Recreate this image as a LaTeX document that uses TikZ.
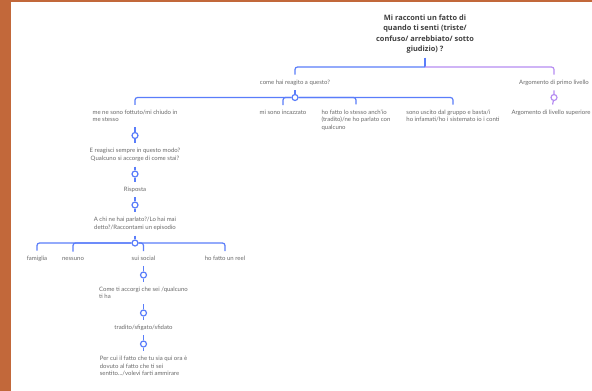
\documentclass[tikz,border=0pt]{standalone}
\usepackage{fontspec}
\setmainfont{Lato}
\newfontfamily\titleFont{Open Sans}
\definecolor{bgOrange}{HTML}{C2683A}
\definecolor{linkBlue}{HTML}{5A7DFA}
\definecolor{linkPurple}{HTML}{B68CF2}
\definecolor{textGray}{HTML}{6A6A6A}
\definecolor{titleGray}{HTML}{404040}
\begin{document}
\begin{tikzpicture}[x=1pt, y=-1pt, titleStyle/.style={font=\titleFont\fontsize{7.4}{10.4}\selectfont\bfseries, text=titleGray, align=center, inner xsep=0pt, inner ysep=4pt}, textStyle/.style={font=\fontsize{6}{7.5}\selectfont, text=textGray, inner xsep=0pt, inner ysep=5pt}, dotStyle/.style={circle, draw=linkBlue, fill=white, line width=1.2pt, minimum size=6pt, inner sep=0pt}, purpleDotStyle/.style={dotStyle, draw=linkPurple}, linkStyle/.style={draw=linkBlue, line width=1.2pt, rounded corners=2.5pt}, purpleLinkStyle/.style={linkStyle, draw=linkPurple}]
                    \fill[bgOrange] (0, 0) rectangle (592, 391);
                    \fill[white] (11, 2) rectangle (592, 391);
                    \useasboundingbox (0, 0) rectangle (592, 391);

                    \node[titleStyle] (root) at (425, 34) {Mi racconti un fatto di\\quando ti senti (triste/\\confuso/ arrebbiato/ sotto\\giudizio) ?};
                    \coordinate (rootFork) at (425, 67);

                    \node[textStyle] (reagito) at (295, 82.5) {come hai reagito a questo?};
                    \node[dotStyle] (reagito_J) at (295, 97.5) {};
                    \node[textStyle] (primo) at (554, 82.5) {Argomento di primo livello};
                    \node[purpleDotStyle] (primo_J) at (554, 97.5) {};
                    \node[textStyle] (superiore) at (551, 112.5) {Argomento di livello superiore};

                    \node[textStyle, align=left] (fottuto) at (135, 116) {me ne sono fottuto/mi chiudo in\\me stesso};
                    \node[textStyle] (incazzato) at (283, 112.5) {mi sono incazzato};
                    \node[textStyle, align=left] (stesso) at (356, 120) {ho fatto lo stesso anch'io\\(tradito)/ne ho parlato con\\qualcuno};
                    \node[textStyle, align=left] (uscito) at (453, 116) {sono uscito dal gruppo e basta/i\\ho infamati/ho i sistemato io i conti};

                    \node[dotStyle] (fottuto_J) at (135, 135.5) {};
                    \node[textStyle, align=center] (reagisci) at (135, 155) {E reagisci sempre in questo modo?\\Qualcuno si accorge di come stai?};
                    \node[dotStyle] (reagisci_J) at (135, 174) {};
                    \node[textStyle] (risposta) at (135, 189.5) {Risposta};
                    \node[dotStyle] (risposta_J) at (135, 205) {};
                    \node[textStyle, align=center] (parlato) at (135, 224) {A chi ne hai parlato?/Lo hai mai\\detto?/Raccontami un episodio};
                    \node[dotStyle] (parlato_J) at (135, 243) {};

                    \node[textStyle] (famiglia) at (37, 258.5) {famiglia};
                    \node[textStyle] (nessuno) at (73, 258.5) {nessuno};
                    \node[textStyle] (social) at (143.5, 258.5) {sui social};
                    \node[textStyle] (reel) at (225, 258.5) {ho fatto un reel};

                    \node[dotStyle] (social_J) at (143.5, 275) {};
                    \node[textStyle, align=left] (accorgi) at (143.5, 293) {Come ti accorgi che sei /qualcuno\\ti ha};
                    \node[dotStyle] (accorgi_J) at (143.5, 313) {};
                    \node[textStyle] (tradito) at (143.5, 327.5) {tradito/sfigato/sfidato};
                    \node[dotStyle] (tradito_J) at (143.5, 344) {};
                    \node[textStyle, align=left] (percui) at (143.5, 366) {Per cui il fatto che tu sia qui ora è\\dovuto al fatto che ti sei\\sentito.../volevi farti ammirare};

                    \draw[linkStyle] (root) -- (rootFork);
                    \draw[linkStyle] (rootFork) -| (reagito);
                    \draw[purpleLinkStyle] (rootFork) -| (primo);
                    \draw[purpleLinkStyle] (primo) -- (primo_J) -- (superiore);

                    \draw[linkStyle] (reagito) -- (reagito_J);
                    \draw[linkStyle] (reagito_J) -| (fottuto);
                    \draw[linkStyle] (reagito_J) -| (incazzato);
                    \draw[linkStyle] (reagito_J) -| (stesso);
                    \draw[linkStyle] (reagito_J) -| (uscito);

                    \draw[linkStyle] (fottuto) -- (fottuto_J) -- (reagisci);
                    \draw[linkStyle] (reagisci) -- (reagisci_J) -- (risposta);
                    \draw[linkStyle] (risposta) -- (risposta_J) -- (parlato);
                    \draw[linkStyle] (parlato) -- (parlato_J);
                    \draw[linkStyle] (parlato_J) -| (famiglia);
                    \draw[linkStyle] (parlato_J) -| (nessuno);
                    \draw[linkStyle] (parlato_J) -| (social);
                    \draw[linkStyle] (parlato_J) -| (reel);

                    \draw[linkStyle] (social) -- (social_J) -- (accorgi);
                    \draw[linkStyle] (accorgi) -- (accorgi_J) -- (tradito);
                    \draw[linkStyle] (tradito) -- (tradito_J) -- (percui);
                \end{tikzpicture}
\end{document}
